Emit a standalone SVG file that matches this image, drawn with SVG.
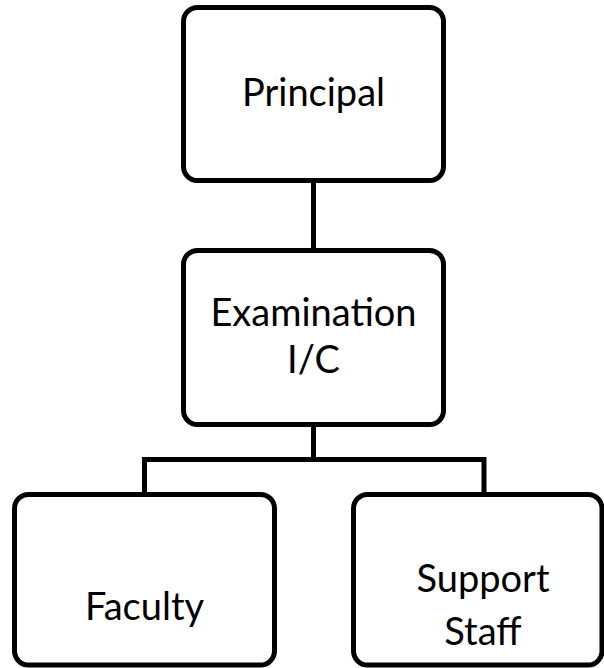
<svg xmlns="http://www.w3.org/2000/svg" width="604" height="668" viewBox="0 0 604 668">
<style>
.box{fill:#fff;stroke:#000;stroke-width:5}
.con{fill:none;stroke:#000;stroke-width:5;stroke-linejoin:miter}
text{font-family:Lato,"Open Sans","Liberation Sans",sans-serif;font-size:38px;fill:#000;text-anchor:middle}
</style>
<rect width="604" height="668" fill="#fff"/>
<g id="connectors">
<line class="con" x1="313.5" y1="180" x2="313.5" y2="251"/>
<polyline class="con" points="313.5,424 313.5,459.5"/>
<polyline class="con" points="144.5,495 144.5,459.5 484,459.5 484,495"/>
</g>
<g id="principal">
<rect class="box" x="183.5" y="7.5" width="260" height="173" rx="14"/>
<text x="313.5" y="106">Principal</text>
</g>
<g id="examination">
<rect class="box" x="183.5" y="250.5" width="260" height="174" rx="14"/>
<text x="313.5" y="326">Examination</text>
<text x="313.5" y="373">I/C</text>
</g>
<g id="faculty">
<rect class="box" x="14.5" y="494.5" width="260" height="170.5" rx="14"/>
<text x="144.5" y="620">Faculty</text>
</g>
<g id="support">
<rect class="box" x="353.5" y="494.5" width="248.5" height="170.5" rx="14"/>
<text x="483" y="591.5">Support</text>
<text x="483" y="645">Staff</text>
</g>
</svg>
